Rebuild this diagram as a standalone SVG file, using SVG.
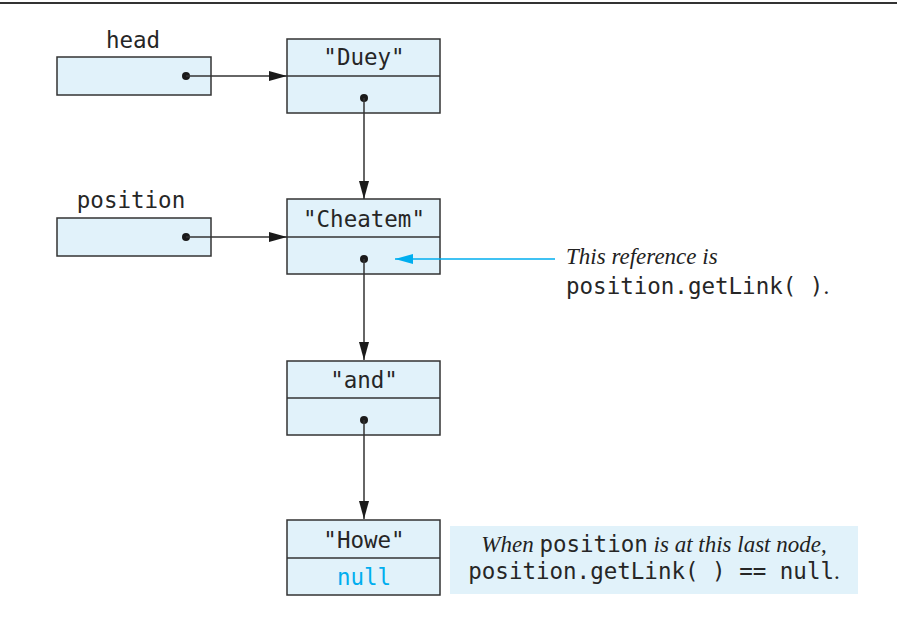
<svg xmlns="http://www.w3.org/2000/svg" width="897" height="621" viewBox="0 0 897 621">
<defs>
<style>
.box{fill:#e1f2fa;stroke:#333;stroke-width:1.5}
.mono{font-family:"DejaVu Sans Mono","Liberation Mono",monospace;font-size:22.5px;fill:#262626}
.it{font-family:"Liberation Serif","DejaVu Serif",serif;font-style:italic;font-size:23px;fill:#222}
.rm{font-family:"Liberation Serif","DejaVu Serif",serif;font-size:23px;fill:#222}
.link{stroke:#333;stroke-width:1.5;fill:none}
.dot{fill:#1a1a1a}
</style>
<marker id="ah" viewBox="0 0 18 10" refX="18" refY="5" markerWidth="18" markerHeight="10" markerUnits="userSpaceOnUse" orient="auto">
<path d="M0,0 L18,5 L0,10 Z" fill="#1a1a1a"/>
</marker>
<marker id="ahb" viewBox="0 0 18 10" refX="18" refY="5" markerWidth="18" markerHeight="10" markerUnits="userSpaceOnUse" orient="auto">
<path d="M0,0 L18,5 L0,10 Z" fill="#00aeef"/>
</marker>
</defs>
<rect width="897" height="621" fill="#fff"/>
<line x1="0" y1="3" x2="897" y2="3" stroke="#333" stroke-width="2"/>

<g id="head">
<text class="mono" x="133" y="48" text-anchor="middle">head</text>
<rect class="box" x="57" y="57" width="154" height="38"/>
<circle class="dot" cx="186" cy="76" r="4"/>
</g>
<g id="position">
<text class="mono" x="131" y="208" text-anchor="middle">position</text>
<rect class="box" x="57" y="218" width="154" height="38"/>
<circle class="dot" cx="186" cy="237" r="4"/>
</g>

<g id="node-duey">
<rect class="box" x="287" y="39" width="153" height="74"/>
<line class="link" x1="287" y1="76" x2="440" y2="76"/>
<text class="mono" x="364" y="65" text-anchor="middle">"Duey"</text>
<circle class="dot" cx="364" cy="98" r="4"/>
</g>
<g id="node-cheatem">
<rect class="box" x="287" y="199" width="153" height="75"/>
<line class="link" x1="287" y1="237" x2="440" y2="237"/>
<text class="mono" x="364" y="227" text-anchor="middle">"Cheatem"</text>
<circle class="dot" cx="364" cy="259" r="4"/>
</g>
<g id="node-and">
<rect class="box" x="287" y="361" width="153" height="74"/>
<line class="link" x1="287" y1="398" x2="440" y2="398"/>
<text class="mono" x="364" y="388" text-anchor="middle">"and"</text>
<circle class="dot" cx="364" cy="420" r="4"/>
</g>
<g id="node-howe">
<rect class="box" x="287" y="520" width="153" height="75"/>
<line class="link" x1="287" y1="558" x2="440" y2="558"/>
<text class="mono" x="364" y="548" text-anchor="middle">"Howe"</text>
<text class="mono" x="364" y="585" text-anchor="middle" style="fill:#00aeef">null</text>
</g>

<g id="connectors">
<line class="link" x1="186" y1="76" x2="287" y2="76" marker-end="url(#ah)"/>
<line class="link" x1="186" y1="237" x2="287" y2="237" marker-end="url(#ah)"/>
<line class="link" x1="364" y1="98" x2="364" y2="199" marker-end="url(#ah)"/>
<line class="link" x1="364" y1="259" x2="364" y2="360" marker-end="url(#ah)"/>
<line class="link" x1="364" y1="420" x2="364" y2="519" marker-end="url(#ah)"/>
<line x1="555" y1="259" x2="395" y2="259" stroke="#00aeef" stroke-width="1.5" marker-end="url(#ahb)"/>
</g>

<g id="note-reference">
<text class="it" x="566" y="264">This reference is</text>
<text x="566" y="294"><tspan class="mono">position.getLink( )</tspan><tspan class="rm">.</tspan></text>
</g>

<g id="note-null">
<rect x="450" y="526" width="408" height="68" fill="#e1f2fa"/>
<text x="654" y="552" text-anchor="middle"><tspan class="it">When </tspan><tspan class="mono">position</tspan><tspan class="it"> is at this last node</tspan><tspan class="rm">,</tspan></text>
<text x="654" y="579" text-anchor="middle"><tspan class="mono">position.getLink( ) == null</tspan><tspan class="rm">.</tspan></text>
</g>
</svg>
